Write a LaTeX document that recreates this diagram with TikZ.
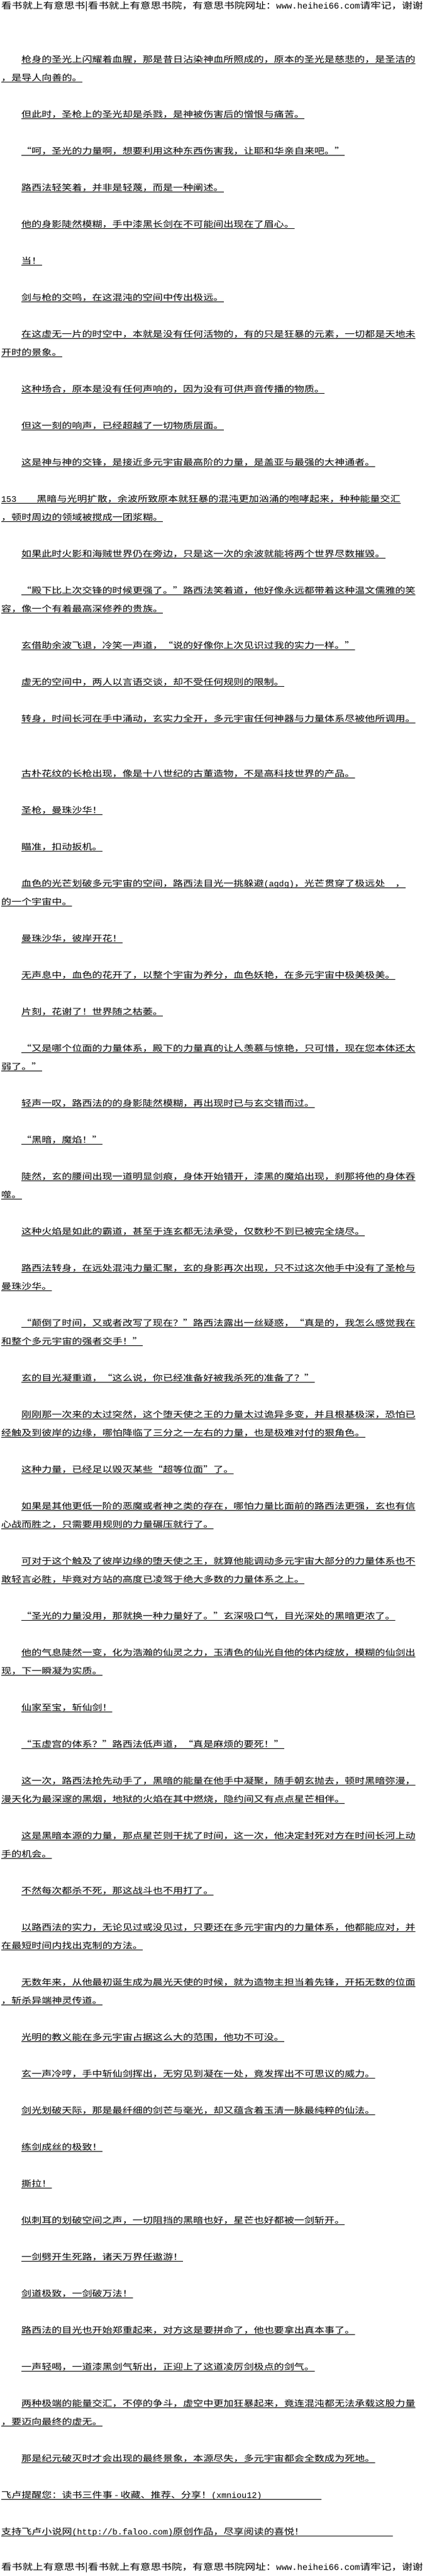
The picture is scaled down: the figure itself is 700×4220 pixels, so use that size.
\documentclass[tikz,border=0pt]{standalone}
\usepackage{fontspec}
\setmainfont{Noto Sans CJK SC}[FakeStretch=1.2]
\newfontfamily\latfont{Liberation Mono}
\tikzset{
	txtline/.style={anchor=base west, inner sep=0pt, font=\fontsize{13.8}{16}\selectfont},
	headline/.style={anchor=base west, inner sep=0pt, font=\fontsize{14.3}{16}\selectfont},
	uline/.style={black, line width=0.8pt}
}
\begin{document}
\begin{tikzpicture}[x=1pt, y=-1pt]
	  \fill[white] (0,0) rectangle (700,4220);
	  \useasboundingbox (0,0) rectangle (700,4220);
	  \node[headline] (head) at (2,15) {看书就上有意思书|看书就上有意思书院，有意思书院网址：{\latfont www.heihei66.com}请牢记，谢谢};
	  \foreach \rw/\xs/\txt in {
	    3/35/{枪身的圣光上闪耀着血腥，那是昔日沾染神血所照成的，原本的圣光是慈悲的，是圣洁的},
	    4/2/{，是导人向善的。},
	    6/35/{但此时，圣枪上的圣光却是杀戮，是神被伤害后的憎恨与痛苦。},
	    8/35/{“呵，圣光的力量啊，想要利用这种东西伤害我，让耶和华亲自来吧。”},
	    10/35/{路西法轻笑着，并非是轻蔑，而是一种阐述。},
	    12/35/{他的身影陡然模糊，手中漆黑长剑在不可能间出现在了眉心。},
	    14/35/{当！},
	    16/35/{剑与枪的交鸣，在这混沌的空间中传出极远。},
	    18/35/{在这虚无一片的时空中，本就是没有任何活物的，有的只是狂暴的元素，一切都是天地未},
	    19/2/{开时的景象。},
	    21/35/{这种场合，原本是没有任何声响的，因为没有可供声音传播的物质。},
	    23/35/{但这一刻的响声，已经超越了一切物质层面。},
	    25/35/{这是神与神的交锋，是接近多元宇宙最高阶的力量，是盖亚与最强的大神通者。},
	    27/2/{{\latfont 153}　　黑暗与光明扩散，余波所致原本就狂暴的混沌更加汹涌的咆哮起来，种种能量交汇},
	    28/2/{，顿时周边的领域被搅成一团浆糊。},
	    30/35/{如果此时火影和海贼世界仍在旁边，只是这一次的余波就能将两个世界尽数摧毁。},
	    32/35/{“殿下比上次交锋的时候更强了。”路西法笑着道，他好像永远都带着这种温文儒雅的笑},
	    33/2/{容，像一个有着最高深修养的贵族。},
	    35/35/{玄借助余波飞退，冷笑一声道，“说的好像你上次见识过我的实力一样。”},
	    37/35/{虚无的空间中，两人以言语交谈，却不受任何规则的限制。},
	    39/35/{转身，时间长河在手中涌动，玄实力全开，多元宇宙任何神器与力量体系尽被他所调用。},
	    42/35/{古朴花纹的长枪出现，像是十八世纪的古董造物，不是高科技世界的产品。},
	    44/35/{圣枪，曼珠沙华！},
	    46/35/{瞄准，扣动扳机。},
	    48/35/{血色的光芒划破多元宇宙的空间，路西法目光一挑躲避{\latfont (agdg)}，光芒贯穿了极远处　，},
	    49/2/{的一个宇宙中。},
	    51/35/{曼珠沙华，彼岸开花！},
	    53/35/{无声息中，血色的花开了，以整个宇宙为养分，血色妖艳，在多元宇宙中极美极美。},
	    55/35/{片刻，花谢了！世界随之枯萎。},
	    57/35/{“又是哪个位面的力量体系，殿下的力量真的让人羡慕与惊艳，只可惜，现在您本体还太},
	    58/2/{弱了。”},
	    60/35/{轻声一叹，路西法的的身影陡然模糊，再出现时已与玄交错而过。},
	    62/35/{“黑暗，魔焰！”},
	    64/35/{陡然，玄的腰间出现一道明显剑痕，身体开始错开，漆黑的魔焰出现，刹那将他的身体吞},
	    65/2/{噬。},
	    67/35/{这种火焰是如此的霸道，甚至于连玄都无法承受，仅数秒不到已被完全烧尽。},
	    69/35/{路西法转身，在远处混沌力量汇聚，玄的身影再次出现，只不过这次他手中没有了圣枪与},
	    70/2/{曼珠沙华。},
	    72/35/{“颠倒了时间，又或者改写了现在？”路西法露出一丝疑惑，“真是的，我怎么感觉我在},
	    73/2/{和整个多元宇宙的强者交手！”},
	    75/35/{玄的目光凝重道，“这么说，你已经准备好被我杀死的准备了？”},
	    77/35/{刚刚那一次来的太过突然，这个堕天使之王的力量太过诡异多变，并且根基极深，恐怕已},
	    78/2/{经触及到彼岸的边缘，哪怕降临了三分之一左右的力量，也是极难对付的狠角色。},
	    80/35/{这种力量，已经足以毁灭某些“超等位面”了。},
	    82/35/{如果是其他更低一阶的恶魔或者神之类的存在，哪怕力量比面前的路西法更强，玄也有信},
	    83/2/{心战而胜之，只需要用规则的力量碾压就行了。},
	    85/35/{可对于这个触及了彼岸边缘的堕天使之王，就算他能调动多元宇宙大部分的力量体系也不},
	    86/2/{敢轻言必胜，毕竟对方站的高度已凌驾于绝大多数的力量体系之上。},
	    88/35/{“圣光的力量没用，那就换一种力量好了。”玄深吸口气，目光深处的黑暗更浓了。},
	    90/35/{他的气息陡然一变，化为浩瀚的仙灵之力，玉清色的仙光自他的体内绽放，模糊的仙剑出},
	    91/2/{现，下一瞬凝为实质。},
	    93/35/{仙家至宝，斩仙剑！},
	    95/35/{“玉虚宫的体系？”路西法低声道，“真是麻烦的要死！”},
	    97/35/{这一次，路西法抢先动手了，黑暗的能量在他手中凝聚，随手朝玄抛去，顿时黑暗弥漫，},
	    98/2/{漫天化为最深邃的黑烟，地狱的火焰在其中燃烧，隐约间又有点点星芒相伴。},
	    100/35/{这是黑暗本源的力量，那点星芒则干扰了时间，这一次，他决定封死对方在时间长河上动},
	    101/2/{手的机会。},
	    103/35/{不然每次都杀不死，那这战斗也不用打了。},
	    105/35/{以路西法的实力，无论见过或没见过，只要还在多元宇宙内的力量体系，他都能应对，并},
	    106/2/{在最短时间内找出克制的方法。},
	    108/35/{无数年来，从他最初诞生成为晨光天使的时候，就为造物主担当着先锋，开拓无数的位面},
	    109/2/{，斩杀异端神灵传道。},
	    111/35/{光明的教义能在多元宇宙占据这么大的范围，他功不可没。},
	    113/35/{玄一声冷哼，手中斩仙剑挥出，无穷见到凝在一处，竟发挥出不可思议的威力。},
	    115/35/{剑光划破天际，那是最纤细的剑芒与毫光，却又蕴含着玉清一脉最纯粹的仙法。},
	    117/35/{练剑成丝的极致！},
	    119/35/{撕拉！},
	    121/35/{似刺耳的划破空间之声，一切阻挡的黑暗也好，星芒也好都被一剑斩开。},
	    123/35/{一剑劈开生死路，诸天万界任遨游！},
	    125/35/{剑道极致，一剑破万法！},
	    127/35/{路西法的目光也开始郑重起来，对方这是要拼命了，他也要拿出真本事了。},
	    129/35/{一声轻喝，一道漆黑剑气斩出，正迎上了这道凌厉剑极点的剑气。},
	    131/35/{两种极端的能量交汇，不停的争斗，虚空中更加狂暴起来，竟连混沌都无法承载这股力量},
	    132/2/{，要迈向最终的虚无。},
	    134/35/{那是纪元破灭时才会出现的最终景象，本源尽失，多元宇宙都会全数成为死地。}} {
	    \node[txtline] (l\rw) at (\xs, 30*\rw+12.5) {\txt};
	    \draw[uline] ([yshift=-1.5pt]l\rw.base west) -- ([yshift=-1.5pt]l\rw.base east);
	  }
	  % last two lines carry a longer underline
	  \node[txtline] (l136) at (2, 30*136+12.5) {飞卢提醒您：读书三件事 - 收藏、推荐、分享！{\latfont (xmniou12)}};
	  \coordinate (e136) at (527, 30*136+14);
	  \draw[uline] ([yshift=-1.5pt]l136.base west) -- (e136);
	  \node[txtline] (l138) at (2, 30*138+12.5) {支持飞卢小说网{\latfont (http://b.faloo.com)}原创作品，尽享阅读的喜悦！};
	  \coordinate (e138) at (644, 30*138+14);
	  \draw[uline] ([yshift=-1.5pt]l138.base west) -- (e138);
	  \node[headline] (foot) at (2,4210) {看书就上有意思书|看书就上有意思书院，有意思书院网址：{\latfont www.heihei66.com}请牢记，谢谢};
	\end{tikzpicture}
\end{document}
